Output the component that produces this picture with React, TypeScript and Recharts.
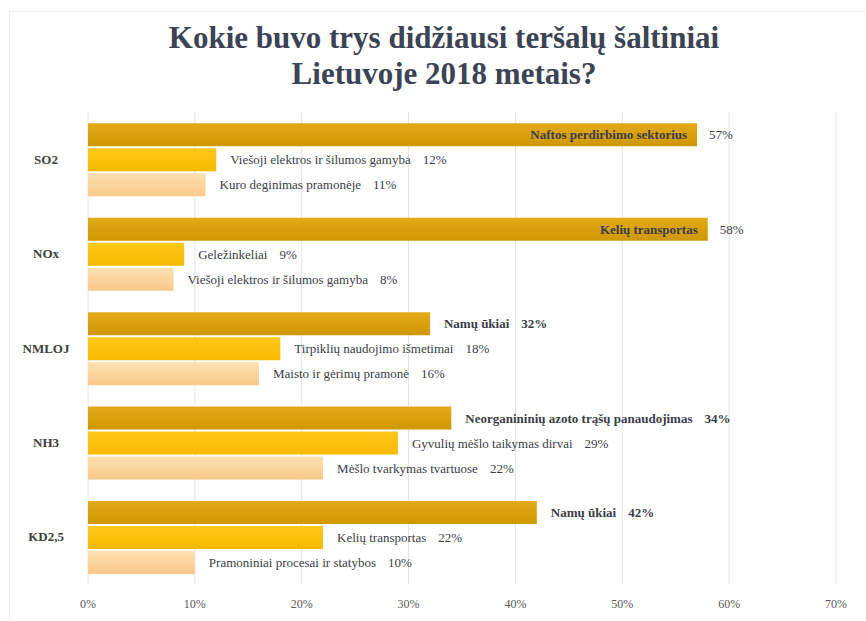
import React from "react";
import { Bar, BarChart, CartesianGrid, LabelList, XAxis, YAxis } from "recharts";

const categories = ["SO2", "NOx", "NMLOJ", "NH3", "KD2,5"];

// three biggest sources per pollutant, shares in %
const firstValues = [57, 58, 32, 34, 42];
const secondValues = [12, 9, 18, 29, 22];
const thirdValues = [11, 8, 16, 22, 10];

const firstNames = [
  "Naftos perdirbimo sektorius",
  "Kelių transportas",
  "Namų ūkiai",
  "Neorganininių azoto trąšų panaudojimas",
  "Namų ūkiai",
];
const secondNames = [
  "Viešoji elektros ir šilumos gamyba",
  "Geležinkeliai",
  "Tirpiklių naudojimo išmetimai",
  "Gyvulių mėšlo taikymas dirvai",
  "Kelių transportas",
];
const thirdNames = [
  "Kuro deginimas pramonėje",
  "Viešoji elektros ir šilumos gamyba",
  "Maisto ir gėrimų pramonė",
  "Mėšlo tvarkymas tvartuose",
  "Pramoniniai procesai ir statybos",
];

const xTicks = [0, 10, 20, 30, 40, 50, 60, 70];

const data = categories.map((c, i) => ({
  name: c,
  first: firstValues[i],
  second: secondValues[i],
  third: thirdValues[i],
}));

const FONT = "Liberation Serif, DejaVu Serif, serif";
const TEXT = "#3b3d48";

function makeLabel(names: string[], bold: boolean) {
  return (props: any) => {
    const { x, y, width, height, value, index } = props;
    const end = x + width;
    const cy = y + height / 2;
    const weight = bold ? 700 : 400;
    if (value > 50) {
      return (
        <g>
          <text x={end - 10} y={cy} dy="0.35em" textAnchor="end" style={{ fontFamily: FONT }} fontSize={13} fontWeight={700} fill={TEXT}>
            {names[index]}
          </text>
          <text x={end + 12} y={cy} dy="0.35em" style={{ fontFamily: FONT }} fontSize={13} fill={TEXT}>
            {value}%
          </text>
        </g>
      );
    }
    return (
      <text x={end + 14} y={cy} dy="0.35em" style={{ fontFamily: FONT }} fontSize={13} fontWeight={weight} fill={TEXT}>
        <tspan>{names[index]}</tspan>
        <tspan dx={12}>{value}%</tspan>
      </text>
    );
  };
}

function CategoryTick(props: any) {
  const { y, payload } = props;
  return (
    <text x={46} y={y} dy="0.35em" textAnchor="middle" style={{ fontFamily: FONT }} fontSize={13} fontWeight={700} fill="#404040">
      {payload.value}
    </text>
  );
}

export default function App() {
  return (
    <div style={{ position: "absolute", left: 0, top: 0, width: 866, height: 621, background: "#fff", fontFamily: FONT }}>
      <div
        style={{
          position: "absolute", left: 9, top: 11, right: 0, bottom: 0,
          borderTop: "1px solid #ececec", borderLeft: "1px solid #ececec",
        }}
      />
      <div
        style={{
          position: "absolute", left: 0, top: 20, width: 888, textAlign: "center",
          fontSize: 31, fontWeight: 700, lineHeight: "36px", color: "#3b4354",
        }}
      >
        Kokie buvo trys didžiausi teršalų šaltiniai
        <br />
        Lietuvoje 2018 metais?
      </div>
      <div style={{ position: "absolute", left: 0, top: 0 }}>
        <BarChart
          width={866}
          height={621}
          data={data}
          layout="vertical"
          margin={{ top: 112, right: 30, bottom: 7, left: 0 }}
          barCategoryGap="12%"
          barGap={2}
        >
          <defs>
            <linearGradient id="gFirst" x1="0" y1="0" x2="0" y2="1">
              <stop offset="0%" stopColor="#e2aa18" />
              <stop offset="100%" stopColor="#cf9700" />
            </linearGradient>
            <linearGradient id="gSecond" x1="0" y1="0" x2="0" y2="1">
              <stop offset="0%" stopColor="#ffc81a" />
              <stop offset="100%" stopColor="#f6b900" />
            </linearGradient>
            <linearGradient id="gThird" x1="0" y1="0" x2="0" y2="1">
              <stop offset="0%" stopColor="#fde0b0" />
              <stop offset="100%" stopColor="#f8c98a" />
            </linearGradient>
          </defs>
          <CartesianGrid horizontal={false} stroke="#e4e4e4" />
          <XAxis
            type="number"
            domain={[0, 70]}
            ticks={xTicks}
            tickFormatter={(v) => `${v}%`}
            axisLine={false}
            tickLine={false}
            tickMargin={9}
            height={30}
            tick={{ style: { fontFamily: FONT }, fontSize: 12, fill: "#595959" }}
          />
          <YAxis type="category" dataKey="name" width={88} axisLine={false} tickLine={false} tick={<CategoryTick />} />
          <Bar dataKey="first" fill="url(#gFirst)" isAnimationActive={false}>
            <LabelList dataKey="first" content={makeLabel(firstNames, true)} />
          </Bar>
          <Bar dataKey="second" fill="url(#gSecond)" isAnimationActive={false}>
            <LabelList dataKey="second" content={makeLabel(secondNames, false)} />
          </Bar>
          <Bar dataKey="third" fill="url(#gThird)" isAnimationActive={false}>
            <LabelList dataKey="third" content={makeLabel(thirdNames, false)} />
          </Bar>
        </BarChart>
      </div>
    </div>
  );
}
